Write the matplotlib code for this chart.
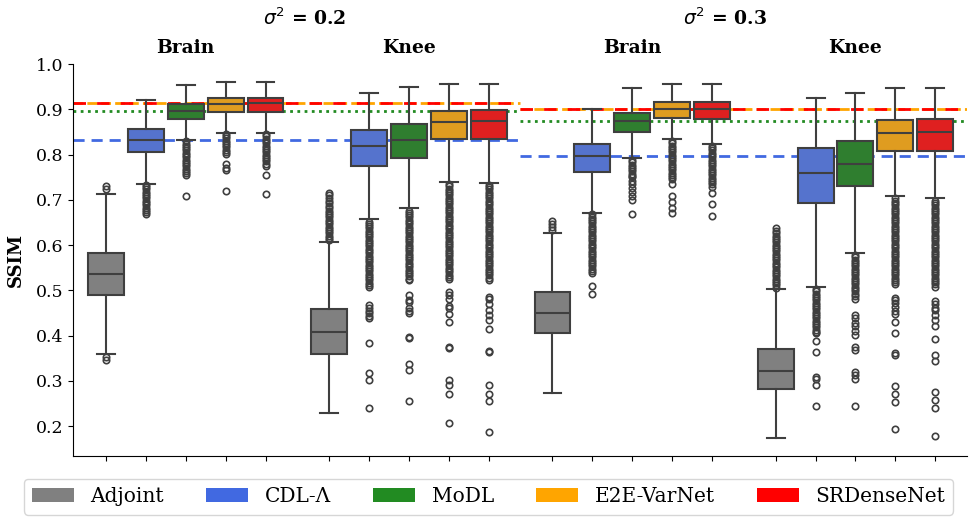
import colorsys
import matplotlib
matplotlib.use('Agg')
import matplotlib.pyplot as plt
from matplotlib.colors import to_rgb
from matplotlib.patches import Patch
from matplotlib.transforms import blended_transform_factory

plt.rcParams['font.family'] = 'DejaVu Serif'

methods = ['Adjoint', 'CDL-Λ', 'MoDL', 'E2E-VarNet', 'SRDenseNet']
colors = ['gray', 'royalblue', 'forestgreen', 'orange', 'red']
anatomy = ['Brain', 'Knee', 'Brain', 'Knee']
noise_titles = [r'$\sigma^2$ = 0.2', r'$\sigma^2$ = 0.3']

# box statistics per panel (Brain .2, Knee .2, Brain .3, Knee .3), per method
medians = [[0.536, 0.832, 0.897, 0.912, 0.915],
           [0.407, 0.819, 0.832, 0.873, 0.875],
           [0.450, 0.796, 0.875, 0.900, 0.900],
           [0.322, 0.760, 0.780, 0.848, 0.850]]
q1 = [[0.490, 0.806, 0.878, 0.895, 0.895],
      [0.360, 0.775, 0.792, 0.834, 0.834],
      [0.406, 0.762, 0.850, 0.881, 0.878],
      [0.282, 0.692, 0.730, 0.808, 0.808]]
q3 = [[0.582, 0.856, 0.911, 0.926, 0.926],
      [0.459, 0.854, 0.867, 0.897, 0.898],
      [0.497, 0.823, 0.892, 0.917, 0.917],
      [0.370, 0.814, 0.831, 0.876, 0.878]]
whis_lo = [[0.360, 0.736, 0.832, 0.848, 0.847],
           [0.229, 0.657, 0.681, 0.740, 0.738],
           [0.274, 0.672, 0.792, 0.834, 0.823],
           [0.173, 0.508, 0.583, 0.708, 0.703]]
whis_hi = [[0.713, 0.920, 0.954, 0.961, 0.960],
           [0.606, 0.937, 0.949, 0.956, 0.957],
           [0.626, 0.900, 0.948, 0.957, 0.956],
           [0.502, 0.926, 0.937, 0.946, 0.948]]

fliers_brain02 = [
    [0.731, 0.723, 0.353, 0.346],
    [0.733, 0.728, 0.723, 0.718, 0.713, 0.708, 0.703, 0.698, 0.693, 0.688, 0.683, 0.678, 0.673, 0.668],
    [0.829, 0.824, 0.819, 0.814, 0.809, 0.804, 0.799, 0.794, 0.789, 0.784, 0.779, 0.774, 0.769, 0.764,
     0.759, 0.755, 0.709],
    [0.846, 0.841, 0.836, 0.831, 0.826, 0.821, 0.816, 0.811, 0.806, 0.801, 0.780, 0.770, 0.765, 0.720],
    [0.845, 0.840, 0.835, 0.830, 0.825, 0.820, 0.815, 0.810, 0.805, 0.800, 0.795, 0.790, 0.785, 0.780,
     0.775, 0.755, 0.712],
]
fliers_knee02 = [
    [0.611, 0.616, 0.621, 0.626, 0.631, 0.636, 0.641, 0.646, 0.651, 0.656, 0.661, 0.666, 0.671, 0.676,
     0.681, 0.686, 0.692, 0.698, 0.704, 0.710, 0.716],
    [0.652, 0.647, 0.642, 0.637, 0.632, 0.627, 0.622, 0.617, 0.612, 0.607, 0.602, 0.597, 0.592, 0.587,
     0.582, 0.577, 0.572, 0.567, 0.562, 0.557, 0.552, 0.547, 0.542, 0.537, 0.532, 0.527, 0.522, 0.517,
     0.512, 0.507, 0.467, 0.460, 0.455, 0.449, 0.443, 0.438, 0.383, 0.318, 0.302, 0.239],
    [0.676, 0.671, 0.666, 0.661, 0.656, 0.651, 0.646, 0.641, 0.636, 0.631, 0.626, 0.621, 0.616, 0.611,
     0.606, 0.601, 0.596, 0.591, 0.586, 0.581, 0.576, 0.571, 0.566, 0.561, 0.556, 0.551, 0.546, 0.541,
     0.536, 0.531, 0.526, 0.523, 0.490, 0.478, 0.474, 0.462, 0.455, 0.449, 0.397, 0.395, 0.337, 0.325,
     0.256],
    [0.735, 0.730, 0.725, 0.720, 0.715, 0.710, 0.705, 0.700, 0.695, 0.690, 0.685, 0.680, 0.675, 0.670,
     0.665, 0.660, 0.655, 0.650, 0.645, 0.640, 0.635, 0.630, 0.625, 0.620, 0.615, 0.610, 0.605, 0.600,
     0.595, 0.590, 0.585, 0.580, 0.575, 0.570, 0.565, 0.560, 0.555, 0.550, 0.545, 0.540, 0.535, 0.530,
     0.526, 0.497, 0.490, 0.481, 0.465, 0.462, 0.447, 0.431, 0.375, 0.372, 0.302, 0.292, 0.272, 0.206],
    [0.733, 0.728, 0.723, 0.718, 0.713, 0.708, 0.703, 0.698, 0.693, 0.688, 0.683, 0.678, 0.673, 0.668,
     0.663, 0.658, 0.653, 0.648, 0.643, 0.638, 0.633, 0.628, 0.623, 0.618, 0.613, 0.608, 0.603, 0.598,
     0.593, 0.588, 0.583, 0.578, 0.573, 0.568, 0.563, 0.558, 0.553, 0.548, 0.543, 0.538, 0.533, 0.528,
     0.523, 0.486, 0.480, 0.470, 0.456, 0.445, 0.434, 0.415, 0.366, 0.363, 0.290, 0.272, 0.255, 0.187],
]
fliers_brain03 = [
    [0.654, 0.647, 0.640, 0.633],
    [0.668, 0.663, 0.658, 0.653, 0.648, 0.643, 0.638, 0.633, 0.628, 0.623, 0.618, 0.613, 0.608, 0.603,
     0.598, 0.593, 0.588, 0.583, 0.578, 0.573, 0.568, 0.563, 0.558, 0.553, 0.548, 0.543, 0.538, 0.510,
     0.493],
    [0.788, 0.783, 0.778, 0.773, 0.768, 0.763, 0.758, 0.753, 0.750, 0.742, 0.735, 0.727, 0.718, 0.708,
     0.699, 0.669],
    [0.830, 0.825, 0.820, 0.815, 0.810, 0.805, 0.800, 0.795, 0.790, 0.785, 0.780, 0.775, 0.770, 0.765,
     0.760, 0.755, 0.750, 0.745, 0.735, 0.708, 0.696, 0.683, 0.671],
    [0.819, 0.814, 0.809, 0.804, 0.799, 0.794, 0.789, 0.784, 0.779, 0.774, 0.769, 0.764, 0.759, 0.754,
     0.749, 0.744, 0.739, 0.734, 0.729, 0.714, 0.690, 0.664],
]
fliers_knee03 = [
    [0.506, 0.511, 0.516, 0.521, 0.526, 0.531, 0.536, 0.541, 0.546, 0.551, 0.556, 0.561, 0.566, 0.571,
     0.576, 0.581, 0.586, 0.591, 0.596, 0.601, 0.606, 0.611, 0.616, 0.621, 0.626, 0.631, 0.637],
    [0.503, 0.498, 0.493, 0.488, 0.483, 0.478, 0.473, 0.468, 0.463, 0.458, 0.453, 0.448, 0.443, 0.438,
     0.433, 0.428, 0.423, 0.418, 0.413, 0.408, 0.405, 0.389, 0.364, 0.309, 0.305, 0.291, 0.244],
    [0.578, 0.573, 0.568, 0.563, 0.558, 0.553, 0.548, 0.543, 0.538, 0.533, 0.528, 0.523, 0.518, 0.513,
     0.508, 0.503, 0.498, 0.493, 0.488, 0.482, 0.445, 0.438, 0.428, 0.421, 0.411, 0.401, 0.375, 0.368,
     0.320, 0.313, 0.305, 0.245],
    [0.703, 0.698, 0.693, 0.688, 0.683, 0.678, 0.673, 0.668, 0.663, 0.658, 0.653, 0.648, 0.643, 0.638,
     0.633, 0.628, 0.623, 0.618, 0.613, 0.608, 0.603, 0.598, 0.593, 0.588, 0.583, 0.578, 0.573, 0.568,
     0.563, 0.558, 0.553, 0.548, 0.543, 0.538, 0.533, 0.528, 0.523, 0.518, 0.515, 0.484, 0.479, 0.472,
     0.463, 0.454, 0.447, 0.429, 0.405, 0.361, 0.357, 0.288, 0.272, 0.254, 0.193],
    [0.698, 0.693, 0.688, 0.683, 0.678, 0.673, 0.668, 0.663, 0.658, 0.653, 0.648, 0.643, 0.638, 0.633,
     0.628, 0.623, 0.618, 0.613, 0.608, 0.603, 0.598, 0.593, 0.588, 0.583, 0.578, 0.573, 0.568, 0.563,
     0.558, 0.553, 0.548, 0.543, 0.538, 0.533, 0.528, 0.523, 0.518, 0.513, 0.508, 0.477, 0.470, 0.462,
     0.456, 0.445, 0.434, 0.422, 0.392, 0.357, 0.343, 0.276, 0.257, 0.239, 0.178],
]
fliers = [fliers_brain02, fliers_knee02, fliers_brain03, fliers_knee03]

# reference lines (CDL, MoDL, E2E, SRDenseNet) for each noise level
ref_lines = [[0.832, 0.897, 0.913, 0.913],
             [0.796, 0.875, 0.900, 0.900]]


def desaturate(c, prop=0.75):
    h, l, s = colorsys.rgb_to_hls(*to_rgb(c))
    return colorsys.hls_to_rgb(h, l, s * prop)


edge = '#3f3f3f'
fig, ax = plt.subplots(figsize=(9.77, 5.25), dpi=100)
fig.subplots_adjust(left=0.0747, right=0.9898, bottom=0.1314, top=0.878)

gap = 5.6
for g in range(4):
    for i in range(5):
        st = dict(med=medians[g][i], q1=q1[g][i], q3=q3[g][i],
                  whislo=whis_lo[g][i], whishi=whis_hi[g][i], fliers=fliers[g][i])
        ax.bxp([st], positions=[g * gap + i], widths=0.9, patch_artist=True,
               boxprops=dict(facecolor=desaturate(colors[i]), edgecolor=edge, linewidth=1.5),
               medianprops=dict(color=edge, linewidth=1.5),
               whiskerprops=dict(color=edge, linewidth=1.5),
               capprops=dict(color=edge, linewidth=1.5),
               flierprops=dict(marker='o', markerfacecolor='none', markeredgecolor=edge,
                               markersize=4.6, markeredgewidth=1.2),
               manage_ticks=False, zorder=2)

styles = [('royalblue', (0, (4, 2.5))), ('forestgreen', (0, (1, 1.6))),
          ('orange', (0, (3.5, 1.5))), ('red', (0, (4.5, 4)))]
for k in range(2):
    for j, (c, ls) in enumerate(styles):
        ax.axhline(ref_lines[k][j], xmin=0.5 * k, xmax=0.5 * (k + 1), color=c,
                   linestyle=ls, linewidth=2, zorder=1)

ax.set_xlim(-0.83, 21.6)
ax.set_ylim(0.134, 1.0)
ax.set_xticks([g * gap + i for g in range(4) for i in range(5)])
ax.set_xticklabels([])
ax.tick_params(axis='y', labelsize=12.5)
ax.spines['top'].set_visible(False)
ax.spines['right'].set_visible(False)
ax.set_ylabel('SSIM', fontsize=13, fontweight='bold', labelpad=8)

trans = blended_transform_factory(ax.transData, ax.transAxes)
for g in range(4):
    ax.text(g * gap + 2, 1.041, anatomy[g], transform=trans, ha='center', va='center',
            fontsize=13.5, fontweight='bold')
fig.text(0.312, 0.966, noise_titles[0], ha='center', va='center', fontsize=13.5, fontweight='bold')
fig.text(0.742, 0.966, noise_titles[1], ha='center', va='center', fontsize=13.5, fontweight='bold')

handles = [Patch(facecolor=c, label=m) for c, m in zip(colors, methods)]
fig.legend(handles=handles, loc='lower center', bbox_to_anchor=(0.5, 0.02), ncol=5,
           fontsize=14.5, handlelength=2.1, handletextpad=0.8, columnspacing=2.1,
           borderaxespad=0)

fig.savefig('out.png', dpi=100)
